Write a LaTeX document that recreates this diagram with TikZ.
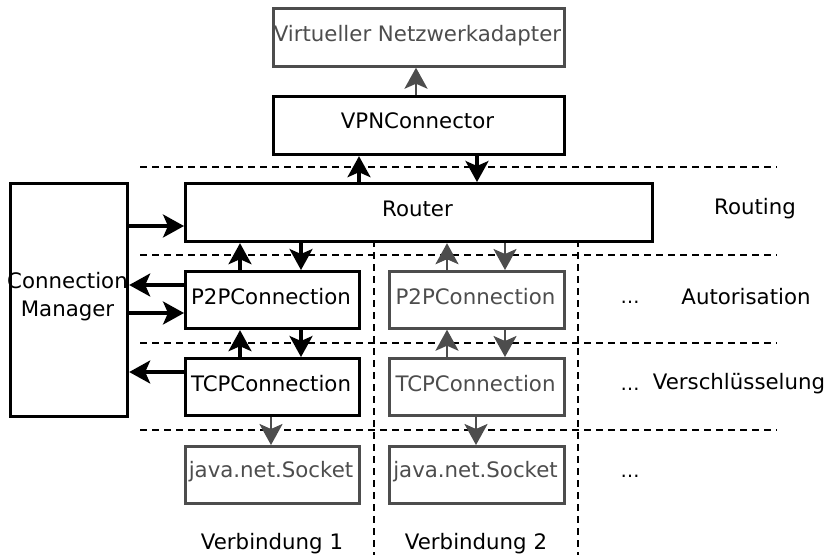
\documentclass[tikz,border=0pt]{standalone}
\usepackage{fontspec}
\setmainfont{DejaVu Sans}
\usetikzlibrary{arrows.meta}
\definecolor{dg}{RGB}{77,77,77}
\begin{document}
\begin{tikzpicture}[x=1pt,y=-1pt,
  every node/.style={font=\fontsize{21.3}{28}\selectfont},
  blk/.style={draw=black,line width=3.2pt,inner sep=0pt,anchor=north west},
  gbk/.style={draw=dg,line width=2.7pt,inner sep=0pt,anchor=north west,text=dg},
  arr/.style={line width=3.2pt,-{Stealth[length=21pt,width=23pt,inset=5pt]}},
  garr/.style={arr,draw=dg,line width=2.7pt},
  sep/.style={dashed,line width=1.1pt,dash pattern=on 7pt off 5pt},
  lbl/.style={inner sep=0pt},
  dots/.style={inner sep=0pt,anchor=base,font=\fontsize{19}{22}\selectfont}]
\useasboundingbox (0,0) rectangle (827,555);
% dashed separators
\draw[sep] (140,167) -- (777,167);
\draw[sep] (140,255) -- (777,255);
\draw[sep] (140,343) -- (777,343);
\draw[sep] (140,430) -- (777,430);
\draw[sep] (374,240) -- (374,555);
\draw[sep] (578,240) -- (578,555);
% boxes
\node[gbk,minimum width=291pt,minimum height=58pt] (virt) at (272,7) {};
\node[dg,lbl] at (417.5,36) {Virtueller Netzwerkadapter};
\node[blk,minimum width=291pt,minimum height=58pt] (vpn) at (272,95) {};
\node[lbl] at (417.5,121) {VPNConnector};
\node[blk,fill=white,minimum width=467pt,minimum height=58pt] (router) at (184,182) {};
\node[lbl] at (417.5,209) {Router};
\node[blk,minimum width=117pt,minimum height=233pt] (cm) at (9,182) {};
\node[lbl,align=center] at (67.5,297) {Connection\\Manager};
\node[blk,fill=white,minimum width=174pt,minimum height=57pt] (p1) at (184,270) {};
\node[lbl] at (271,297) {P2PConnection};
\node[gbk,fill=white,minimum width=175pt,minimum height=57pt] (p2) at (388,270) {};
\node[lbl,dg] at (475.5,297) {P2PConnection};
\node[blk,fill=white,minimum width=174pt,minimum height=57pt] (t1) at (184,357) {};
\node[lbl] at (271,384) {TCPConnection};
\node[gbk,fill=white,minimum width=175pt,minimum height=57pt] (t2) at (388,357) {};
\node[lbl,dg] at (475.5,384) {TCPConnection};
\node[gbk,fill=white,minimum width=174pt,minimum height=57pt] (s1) at (184,445) {};
\node[lbl,dg] at (271,472) {java.net.Socket};
\node[gbk,fill=white,minimum width=175pt,minimum height=57pt] (s2) at (388,445) {};
\node[lbl,dg] at (475.5,472) {java.net.Socket};
% side labels
\node[lbl] (routing) at (755,209) {Routing};
\node[dots] (d1) at (630,303) {…};
\node[lbl] (auth) at (746,297) {Autorisation};
\node[dots] (d2) at (630,390) {…};
\node[lbl] (enc) at (739,384) {Verschlüsselung};
\node[dots] (d3) at (630,477) {…};
\node[lbl] (v1) at (272,544) {Verbindung 1};
\node[lbl] (v2) at (476,544) {Verbindung 2};
% arrows
\draw[garr] (vpn.north -| 416,0) -- (virt.south -| 416,0);
\draw[arr] (router.north -| 359,0) -- (vpn.south -| 359,0);
\draw[arr] (vpn.south -| 477,0) -- (router.north -| 477,0);
\draw[arr] (cm.east |- 0,226) -- (router.west |- 0,226);
\draw[arr] (p1.north -| 240,0) -- (router.south -| 240,0);
\draw[arr] (router.south -| 301,0) -- (p1.north -| 301,0);
\draw[garr] (p2.north -| 447,0) -- (router.south -| 447,0);
\draw[garr] (router.south -| 505,0) -- (p2.north -| 505,0);
\draw[arr] (p1.west |- 0,285) -- (cm.east |- 0,285);
\draw[arr] (cm.east |- 0,313) -- (p1.west |- 0,313);
\draw[arr] (t1.north -| 240,0) -- (p1.south -| 240,0);
\draw[arr] (p1.south -| 301,0) -- (t1.north -| 301,0);
\draw[garr] (t2.north -| 447,0) -- (p2.south -| 447,0);
\draw[garr] (p2.south -| 505,0) -- (t2.north -| 505,0);
\draw[arr] (t1.west |- 0,372) -- (cm.east |- 0,372);
\draw[garr] (t1.south -| 271,0) -- (s1.north -| 271,0);
\draw[garr] (t2.south -| 476,0) -- (s2.north -| 476,0);
\end{tikzpicture}
\end{document}
